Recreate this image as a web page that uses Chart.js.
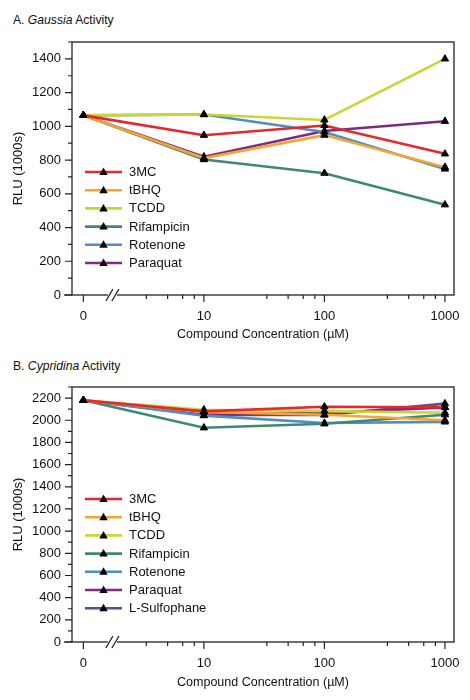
<!DOCTYPE html>
<html lang="en">
<head>
<meta charset="UTF-8">
<title>Gaussia and Cypridina Activity</title>
<script src="https://cdn.jsdelivr.net/npm/chart.js"></script>
<style>
    body {
        margin: 0;
        background: #fff;
        font-family: "Liberation Sans", Arial, sans-serif;
    }
    .wrap {
        position: relative;
        width: 470px;
        height: 700px;
    }
    .panel {
        position: absolute;
        left: 0;
        width: 470px;
    }
    .title {
        position: absolute;
        left: 13px;
        font-size: 13.5px;
        color: #111;
        transform: scaleX(0.9);
        transform-origin: left top;
    }
</style>
</head>
<body>
<div class="wrap">
    <div class="title" style="top:12px">A. <i>Gaussia</i> Activity</div>
    <div class="panel" style="top:0; height:345px"><canvas id="gaussia"></canvas></div>
    <div class="title" style="top:358px">B. <i>Cypridina</i> Activity</div>
    <div class="panel" style="top:345px; height:355px"><canvas id="cypridina"></canvas></div>
</div>

<script>
    // concentration 0 is drawn at the x=1 position of the log axis
    const concX = [1, 10, 100, 1000];
    const concLabels = ['0', '10', '100', '1000'];

    const compounds = ['3MC', 'tBHQ', 'TCDD', 'Rifampicin', 'Rotenone', 'Paraquat', 'L-Sulfophane'];
    const colors = ['#e8262b', '#f7a431', '#c9d634', '#3f8a6c', '#4f8dc6', '#7d2b7d', '#5a4f8e'];

    // Gaussia RLU (1000s)
    const g3MC = [1065, 947, 1005, 837];
    const gTBHQ = [1065, 812, 948, 758];
    const gTCDD = [1065, 1070, 1038, 1400];
    const gRifampicin = [1065, 803, 722, 535];
    const gRotenone = [1065, 1070, 966, 747];
    const gParaquat = [1065, 820, 972, 1030];

    // Cypridina RLU (1000s)
    const c3MC = [2180, 2080, 2122, 2118];
    const cTBHQ = [2180, 2075, 2050, 2000];
    const cTCDD = [2180, 2095, 2082, 2068];
    const cRifampicin = [2180, 1932, 1968, 2050];
    const cRotenone = [2180, 2042, 1975, 1985];
    const cParaquat = [2180, 2050, 2065, 2115];
    const cLSulfophane = [2180, 2048, 2048, 2150];

    const FONT = '"Liberation Sans", Arial, sans-serif';
    const INK = '#222';

    function makeSets(series) {
        return series.map((vals, i) => ({
            label: compounds[i],
            data: vals.map((v, j) => ({ x: concX[j], y: v })),
            borderColor: colors[i],
            borderWidth: 2.6,
            pointStyle: 'triangle',
            pointRadius: 4.2,
            pointBackgroundColor: '#000',
            pointBorderColor: '#000',
            pointBorderWidth: 1,
            tension: 0
        }));
    }

    // frame, ticks, axis break and the legend inside the plot
    const decor = {
        id: 'decor',
        afterDraw(chart, args, opts) {
            const ctx = chart.ctx;
            const a = chart.chartArea;
            const xs = chart.scales.x;
            const ys = chart.scales.y;
            ctx.save();
            ctx.strokeStyle = INK;
            ctx.lineWidth = 1.3;
            ctx.strokeRect(a.left, a.top, a.right - a.left, a.bottom - a.top);
            ctx.beginPath();
            ctx.moveTo(a.left - 8, a.bottom);
            ctx.lineTo(a.left, a.bottom);
            ctx.stroke();

            ctx.lineWidth = 1.2;
            ctx.beginPath();
            ys.ticks.forEach(t => {
                const y = ys.getPixelForValue(t.value);
                const len = t.value % 200 === 0 ? 7 : 4;
                ctx.moveTo(a.left, y);
                ctx.lineTo(a.left - len, y);
            });
            concX.forEach(v => {
                const x = xs.getPixelForValue(v);
                ctx.moveTo(x, a.bottom);
                ctx.lineTo(x, a.bottom + 7);
            });
            [1, 10, 100].forEach(d => {
                [3.33, 5, 6.67, 8.33].forEach(m => {
                    const x = xs.getPixelForValue(d * m);
                    ctx.moveTo(x, a.bottom);
                    ctx.lineTo(x, a.bottom + 4);
                });
            });
            ctx.stroke();

            // axis break
            const bx = xs.getPixelForValue(1.76);
            ctx.fillStyle = '#fff';
            ctx.fillRect(bx - 5, a.bottom - 2, 9, 4);
            ctx.lineWidth = 1.3;
            ctx.beginPath();
            [-3, 3].forEach(o => {
                ctx.moveTo(bx + o - 4, a.bottom + 6);
                ctx.lineTo(bx + o + 3, a.bottom - 6);
            });
            ctx.stroke();

            // legend
            ctx.font = '13px ' + FONT;
            ctx.textBaseline = 'middle';
            chart.data.datasets.forEach((ds, i) => {
                const y = opts.y + i * opts.gap;
                ctx.strokeStyle = ds.borderColor;
                ctx.lineWidth = 2.6;
                ctx.beginPath();
                ctx.moveTo(opts.x0, y);
                ctx.lineTo(opts.x1, y);
                ctx.stroke();
                const cx = (opts.x0 + opts.x1) / 2;
                ctx.fillStyle = '#000';
                ctx.beginPath();
                ctx.moveTo(cx, y - 4.5);
                ctx.lineTo(cx + 4.2, y + 3);
                ctx.lineTo(cx - 4.2, y + 3);
                ctx.closePath();
                ctx.fill();
                ctx.fillStyle = '#111';
                ctx.fillText(ds.label, opts.tx, y + 0.5);
            });
            ctx.restore();
        }
    };

    function makeChart(id, series, yMax, frame) {
        return new Chart(document.getElementById(id), {
            type: 'line',
            data: { datasets: makeSets(series) },
            plugins: [decor],
            options: {
                responsive: true,
                maintainAspectRatio: false,
                animation: false,
                layout: { padding: { top: frame.top, right: 16, left: 0, bottom: 0 } },
                plugins: {
                    legend: { display: false },
                    tooltip: { enabled: false },
                    decor: frame.legend
                },
                scales: {
                    x: {
                        type: 'logarithmic',
                        min: 0.805,
                        max: 1189,
                        afterBuildTicks: s => { s.ticks = concX.map(v => ({ value: v })); },
                        afterFit: s => { s.height = frame.xh; },
                        grid: { display: false },
                        border: { display: false },
                        ticks: {
                            autoSkip: false,
                            maxRotation: 0,
                            padding: 6,
                            color: '#111',
                            font: { family: FONT, size: 13 },
                            callback: v => concLabels[concX.indexOf(v)]
                        },
                        title: {
                            display: true,
                            text: 'Compound Concentration (µM)',
                            color: '#111',
                            font: { family: FONT, size: 12.5 },
                            padding: { top: 0, bottom: frame.titlePad }
                        }
                    },
                    y: {
                        min: 0,
                        max: yMax,
                        afterFit: s => { s.width = frame.left; },
                        grid: { display: false },
                        border: { display: false },
                        ticks: {
                            stepSize: 100,
                            autoSkip: false,
                            padding: 3,
                            color: '#111',
                            font: { family: FONT, size: 13 },
                            callback: v => (v % 200 === 0 ? v : '')
                        },
                        title: {
                            display: true,
                            text: 'RLU (1000s)',
                            color: '#111',
                            font: { family: FONT, size: 13 },
                            padding: { top: 11, bottom: 0 }
                        }
                    }
                }
            }
        });
    }

    makeChart('gaussia',
        [g3MC, gTBHQ, gTCDD, gRifampicin, gRotenone, gParaquat],
        1500,
        { top: 42, left: 72, xh: 50, titlePad: 3,
          legend: { x0: 85, x1: 122, tx: 129, y: 172, gap: 18.2 } });

    makeChart('cypridina',
        [c3MC, cTBHQ, cTCDD, cRifampicin, cRotenone, cParaquat, cLSulfophane],
        2300,
        { top: 42, left: 72, xh: 58, titlePad: 10,
          legend: { x0: 85, x1: 122, tx: 129, y: 154, gap: 18.2 } });
</script>
</body>
</html>
